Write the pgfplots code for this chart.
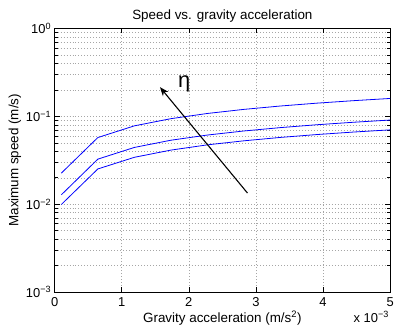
\documentclass[border=0pt]{standalone}
\usepackage{fontspec}
\setmainfont{Liberation Sans}
\usepackage{pgfplots}
\pgfplotsset{compat=1.18}
\usetikzlibrary{arrows.meta}
\begin{document}
\begin{tikzpicture}
\begin{axis}[
  scale only axis,
  width=337.7pt, height=265.3pt,
  ymode=log,
  xmin=0, xmax=5, ymin=0.001, ymax=1,
  xtick={0,1,2,3,4,5},
  xticklabels={0,1,2,3,4,5},
  ytick={0.001,0.01,0.1,1},
  yticklabels={10\textsuperscript{−3},10\textsuperscript{−2},10\textsuperscript{−1},10\textsuperscript{0}},
  tick align=inside,
  tick pos=both,
  major tick length=5pt, minor tick length=3pt,
  minor y tick num=8,
  grid=both,
  xminorgrids=false,
  major grid style={gray!70, line width=0.5pt, dash pattern=on 1pt off 2pt},
  minor grid style={gray!70, line width=0.5pt, dash pattern=on 1pt off 2pt},
  axis line style={line width=1.1pt},
  every tick/.style={black, line width=0.6pt},
  tick label style={font=\fontsize{13}{15}\selectfont},
  xticklabel style={yshift=-2pt},
  title={Speed vs. gravity acceleration},
  xlabel={Gravity acceleration (m/s\textsuperscript{2})},
  ylabel={Maximum speed (m/s)},
  every axis x label/.style={at={(axis description cs:0.5,0)}, yshift=-26pt, anchor=center, font=\fontsize{13.5}{15}\selectfont},
  every axis y label/.style={at={(axis description cs:0,0.5)}, xshift=-40pt, anchor=center, rotate=90, font=\fontsize{13.5}{15}\selectfont},
  every axis title/.style={at={(axis description cs:0.5,1)}, yshift=13pt, anchor=center, font=\fontsize{13.5}{15}\selectfont},
  clip=false,
]
\addplot[blue, line width=0.8pt] coordinates {
 (0.1,0.0226) (0.644,0.0574) (1.189,0.0780) (1.733,0.0941) (2.278,0.1079)
 (2.822,0.1201) (3.367,0.1312) (3.911,0.1414) (4.456,0.1509) (5.0,0.1599)};
\addplot[blue, line width=0.8pt] coordinates {
 (0.1,0.0128) (0.644,0.0326) (1.189,0.0443) (1.733,0.0535) (2.278,0.0613)
 (2.822,0.0682) (3.367,0.0745) (3.911,0.0803) (4.456,0.0857) (5.0,0.0908)};
\addplot[blue, line width=0.8pt] coordinates {
 (0.1,0.00993) (0.644,0.0252) (1.189,0.0342) (1.733,0.0413) (2.278,0.0474)
 (2.822,0.0527) (3.367,0.0576) (3.911,0.0621) (4.456,0.0663) (5.0,0.0702)};
\draw[line width=1.1pt, -{Stealth[length=9pt,width=7pt]}] (axis cs:2.874,0.0134) -- (axis cs:1.57,0.215);
\node[font=\fontsize{22}{22}\selectfont] at (axis cs:1.93,0.235) {η};
\node[font=\fontsize{13}{15}\selectfont] at ([yshift=-25pt]rel axis cs:0.944,0) {x 10\textsuperscript{−3}};
\end{axis}
\useasboundingbox (-55pt,-37pt) rectangle (342pt,294pt);
\end{tikzpicture}
\end{document}
